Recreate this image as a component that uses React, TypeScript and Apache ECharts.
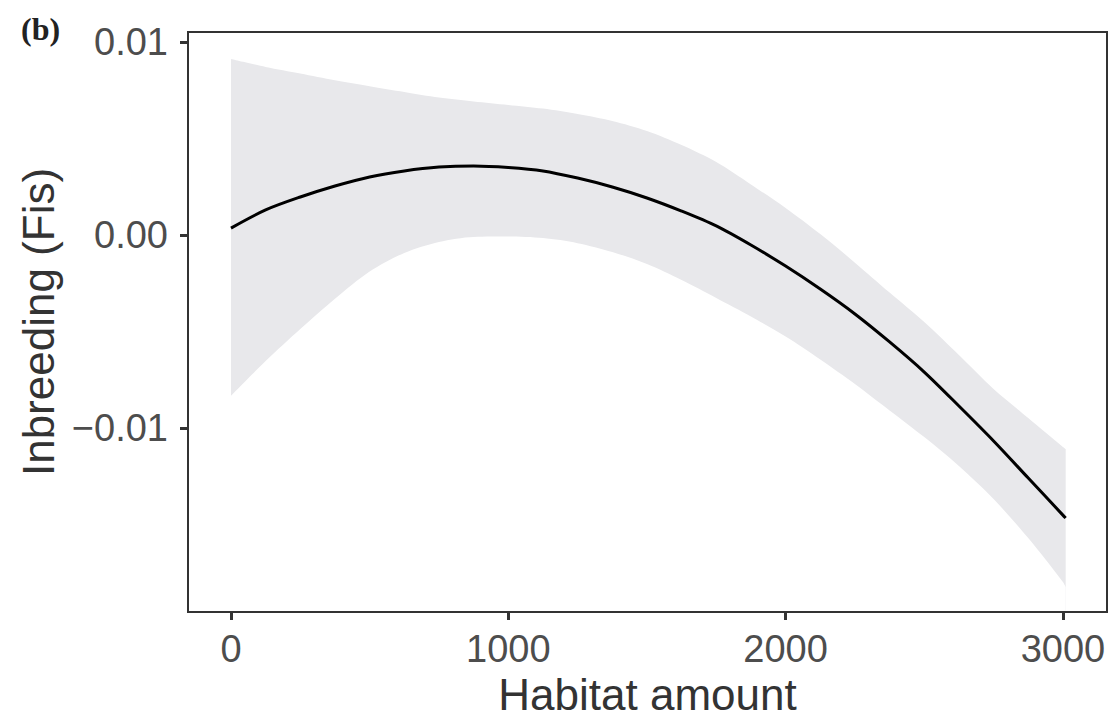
import React, { useEffect, useRef } from "react";
import * as echarts from "echarts";

// Habitat amount (x) at which the fitted curve and its confidence band were read
const habitatAmount = [0, 125, 250, 375, 500, 625, 750, 875, 1000, 1125, 1250, 1375, 1500, 1625, 1750, 1875, 2000, 2125, 2250, 2375, 2500, 2625, 2750, 2875, 3000, 3010];
// Fitted inbreeding (Fis)
const fitValues = [0.00036, 0.0013, 0.00197, 0.00254, 0.00301, 0.00332, 0.00352, 0.00358, 0.0035, 0.00332, 0.00295, 0.00249, 0.00192, 0.00124, 0.00047, -0.00052, -0.00161, -0.0028, -0.00409, -0.00554, -0.0071, -0.00886, -0.01067, -0.01259, -0.01451, -0.01466];
// Upper and lower confidence limits
const upperValues = [0.00912, 0.00871, 0.00837, 0.00802, 0.00771, 0.00741, 0.00712, 0.00692, 0.00674, 0.00655, 0.00627, 0.00591, 0.00539, 0.00466, 0.00378, 0.00262, 0.0014, 0.00005, -0.00143, -0.00298, -0.00451, -0.00622, -0.00798, -0.00948, -0.01098, -0.01109];
const lowerValues = [-0.00834, -0.00653, -0.00487, -0.0033, -0.00189, -0.00093, -0.00036, -0.0001, -0.00008, -0.00016, -0.00042, -0.00088, -0.0015, -0.00233, -0.00326, -0.00422, -0.00526, -0.00645, -0.00772, -0.00909, -0.01047, -0.01197, -0.01368, -0.0157, -0.01798, -0.01824];

const xTickValues = [0, 1000, 2000, 3000];
const xTickLabels = ["0", "1000", "2000", "3000"];
const yTickValues = [-0.01, 0, 0.01];
const yTickLabels = ["\u22120.01", "0.00", "0.01"];

const xTitle = "Habitat amount";
const yTitle = "Inbreeding (Fis)";
const panelLabel = "(b)";

export default function App() {
  const ref = useRef<HTMLDivElement>(null);

  useEffect(() => {
    if (!ref.current) return;
    const chart = echarts.init(ref.current, null, { renderer: "svg" });
    const font = "'Liberation Sans', Arial, Helvetica, sans-serif";

    const upperData = habitatAmount.map((x, i) => [x, upperValues[i]]);
    const lowerData = habitatAmount.map((x, i) => [x, lowerValues[i]]);
    const fitData = habitatAmount.map((x, i) => [x, fitValues[i]]);

    chart.setOption({
      animation: false,
      backgroundColor: "#ffffff",
      grid: {
        left: 188,
        right: 10,
        top: 32,
        bottom: 111,
        show: true,
        borderColor: "#333333",
        borderWidth: 2,
        backgroundColor: "transparent",
      },
      graphic: [
        {
          type: "text",
          left: 21,
          top: 13,
          style: {
            text: panelLabel,
            font: "bold 32px 'Liberation Serif', 'Times New Roman', serif",
            fill: "#222222",
          },
        },
      ],
      xAxis: {
        type: "value",
        min: -155,
        max: 3159,
        z: 10,
        name: xTitle,
        nameLocation: "middle",
        nameGap: 58,
        nameTextStyle: { fontFamily: font, fontSize: 44, color: "#333333" },
        axisLine: { show: true, onZero: false, lineStyle: { color: "#333333", width: 2 } },
        axisTick: {
          show: true,
          length: 8,
          customValues: xTickValues,
          lineStyle: { color: "#333333", width: 3 },
        },
        axisLabel: {
          customValues: xTickValues,
          formatter: (v: number) => xTickLabels[xTickValues.indexOf(v)] ?? "",
          fontFamily: font,
          fontSize: 38,
          color: "#4d4d4d",
          margin: 18,
        },
        splitLine: { show: false },
      },
      yAxis: {
        type: "value",
        min: -0.01953,
        max: 0.010518,
        z: 10,
        name: yTitle,
        nameLocation: "middle",
        nameGap: 124,
        nameRotate: 90,
        nameTextStyle: { fontFamily: font, fontSize: 44, color: "#333333" },
        axisLine: { show: true, onZero: false, lineStyle: { color: "#333333", width: 2 } },
        axisTick: {
          show: true,
          length: 8,
          customValues: yTickValues,
          lineStyle: { color: "#333333", width: 3 },
        },
        axisLabel: {
          customValues: yTickValues,
          formatter: (v: number) => {
            const idx = yTickValues.findIndex((t) => Math.abs(t - v) < 1e-9);
            return idx >= 0 ? yTickLabels[idx] : "";
          },
          fontFamily: font,
          fontSize: 38,
          color: "#4d4d4d",
          margin: 20,
        },
        splitLine: { show: false },
      },
      series: [
        {
          type: "line",
          name: "upper",
          data: upperData,
          smooth: 0.3,
          symbol: "none",
          lineStyle: { opacity: 0 },
          areaStyle: { color: "#e8e8eb", opacity: 1, origin: "start" },
          silent: true,
          z: 1,
        },
        {
          type: "line",
          name: "lower",
          data: lowerData,
          smooth: 0.3,
          symbol: "none",
          lineStyle: { opacity: 0 },
          areaStyle: { color: "#ffffff", opacity: 1, origin: "start" },
          silent: true,
          z: 2,
        },
        {
          type: "line",
          name: "fit",
          data: fitData,
          smooth: 0.3,
          symbol: "none",
          lineStyle: { color: "#000000", width: 3 },
          z: 5,
        },
      ],
    });

    return () => chart.dispose();
  }, []);

  return (
    <div
      ref={ref}
      style={{ position: "fixed", left: 0, top: 0, width: 1117, height: 723 }}
    />
  );
}
